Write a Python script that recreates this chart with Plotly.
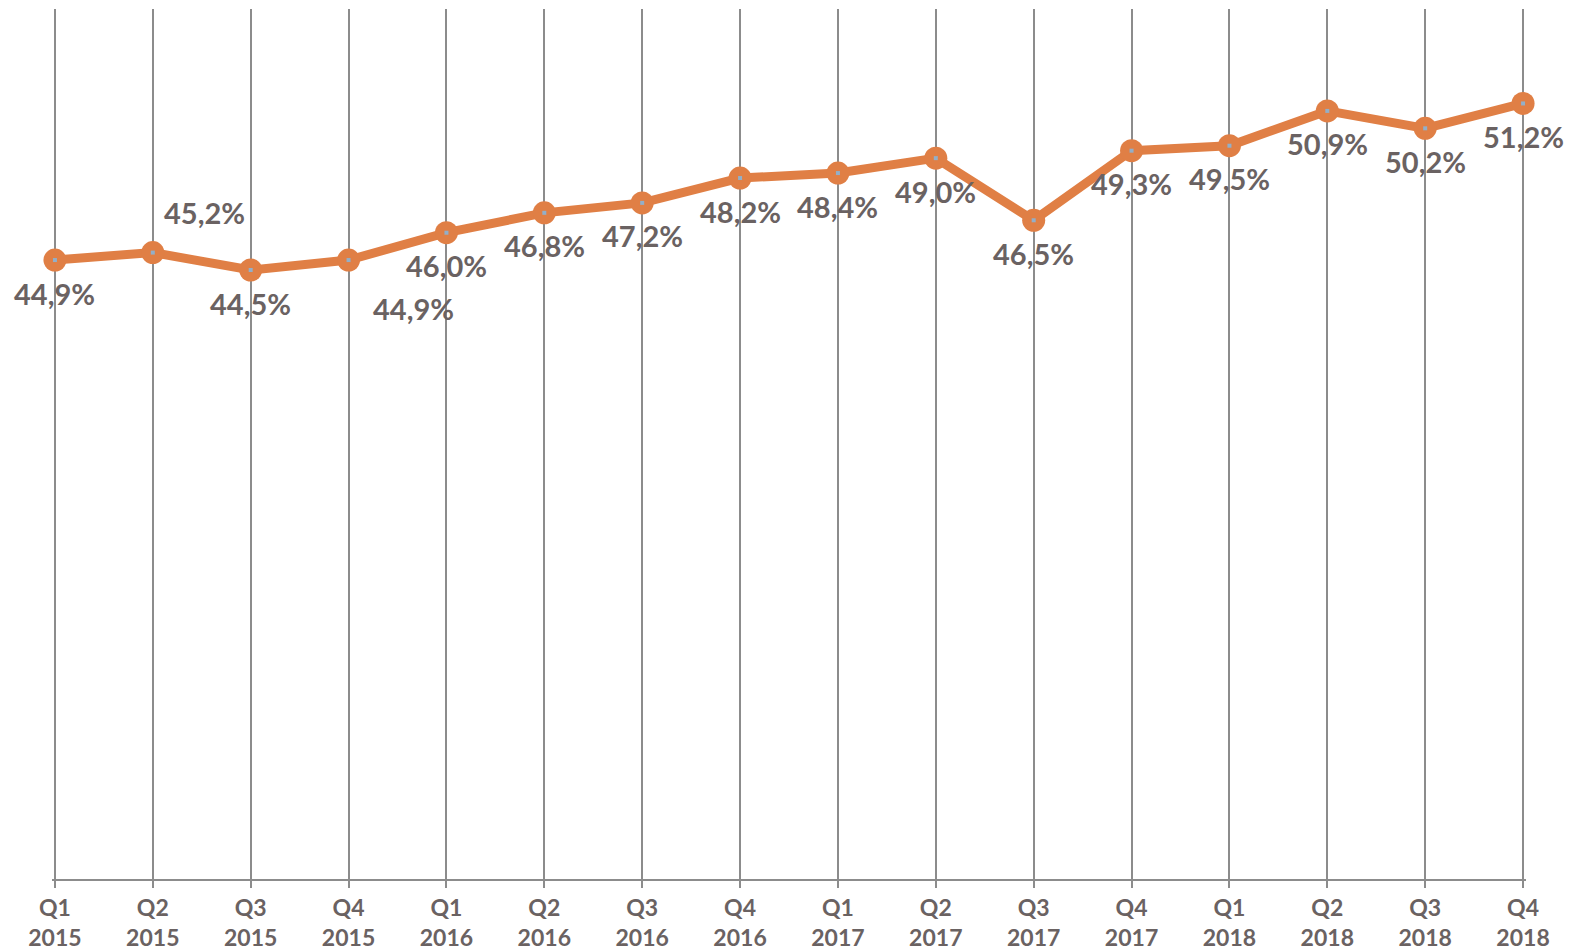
import plotly.graph_objects as go

quarters = ["Q1", "Q2", "Q3", "Q4"] * 4
years = ["2015"] * 4 + ["2016"] * 4 + ["2017"] * 4 + ["2018"] * 4
values = [44.9, 45.2, 44.5, 44.9, 46.0, 46.8, 47.2, 48.2, 48.4, 49.0, 46.5, 49.3, 49.5, 50.9, 50.2, 51.2]
labels = ["44,9%", "45,2%", "44,5%", "44,9%", "46,0%", "46,8%", "47,2%", "48,2%",
          "48,4%", "49,0%", "46,5%", "49,3%", "49,5%", "50,9%", "50,2%", "51,2%"]
# label offsets (px) relative to point
label_dx = [0, 52, 0, 65, 0, 0, 0, 0, 0, 0, 0, 0, 0, 0, 0, 0]
label_dy = [-33, 40, -33, -48, -33, -33, -33, -33, -33, -33, -33, -33, -33, -33, -33, -33]

x = list(range(len(values)))
ticktext = [f"{q}<br>{y}" for q, y in zip(quarters, years)]

ORANGE = "#E07F45"
TEXT = "#6A6262"
GRID = "#8C8C8C"
FONT = "Lato"

fig = go.Figure()
fig.add_trace(go.Scatter(
    x=x, y=values, mode="lines+markers",
    line=dict(color=ORANGE, width=9),
    marker=dict(symbol="circle", size=23, color=ORANGE, line=dict(width=0)),
    cliponaxis=False, hoverinfo="skip", showlegend=False,
))
fig.add_trace(go.Scatter(
    x=x, y=values, mode="markers",
    marker=dict(symbol="square", size=4, color="#93AFC8", line=dict(width=0)),
    cliponaxis=False, hoverinfo="skip", showlegend=False,
))

for xi, v, t, dx, dy in zip(x, values, labels, label_dx, label_dy):
    fig.add_annotation(x=xi, y=v, text=t, showarrow=False, xshift=dx, yshift=dy,
                       font=dict(family=FONT, size=29, color=TEXT, weight="bold"))

# page body has an 8px default margin, so the figure is sized/offset accordingly
fig.update_layout(
    width=1566, height=943,
    margin=dict(l=44, r=48, t=1, b=72),
    paper_bgcolor="white", plot_bgcolor="white",
    xaxis=dict(
        range=[-0.03, 15.03], tickmode="array", tickvals=x, ticktext=ticktext,
        showgrid=True, gridcolor=GRID, gridwidth=2,
        showline=True, linecolor=GRID, linewidth=2,
        ticks="outside", ticklen=7, tickwidth=2, tickcolor=GRID,
        tickfont=dict(family=FONT, size=23, color=TEXT, weight="bold"),
        zeroline=False, automargin=False,
    ),
    yaxis=dict(range=[20, 55], showgrid=False, showticklabels=False, zeroline=False,
               showline=False, automargin=False),
)

fig.write_html("out.html")
